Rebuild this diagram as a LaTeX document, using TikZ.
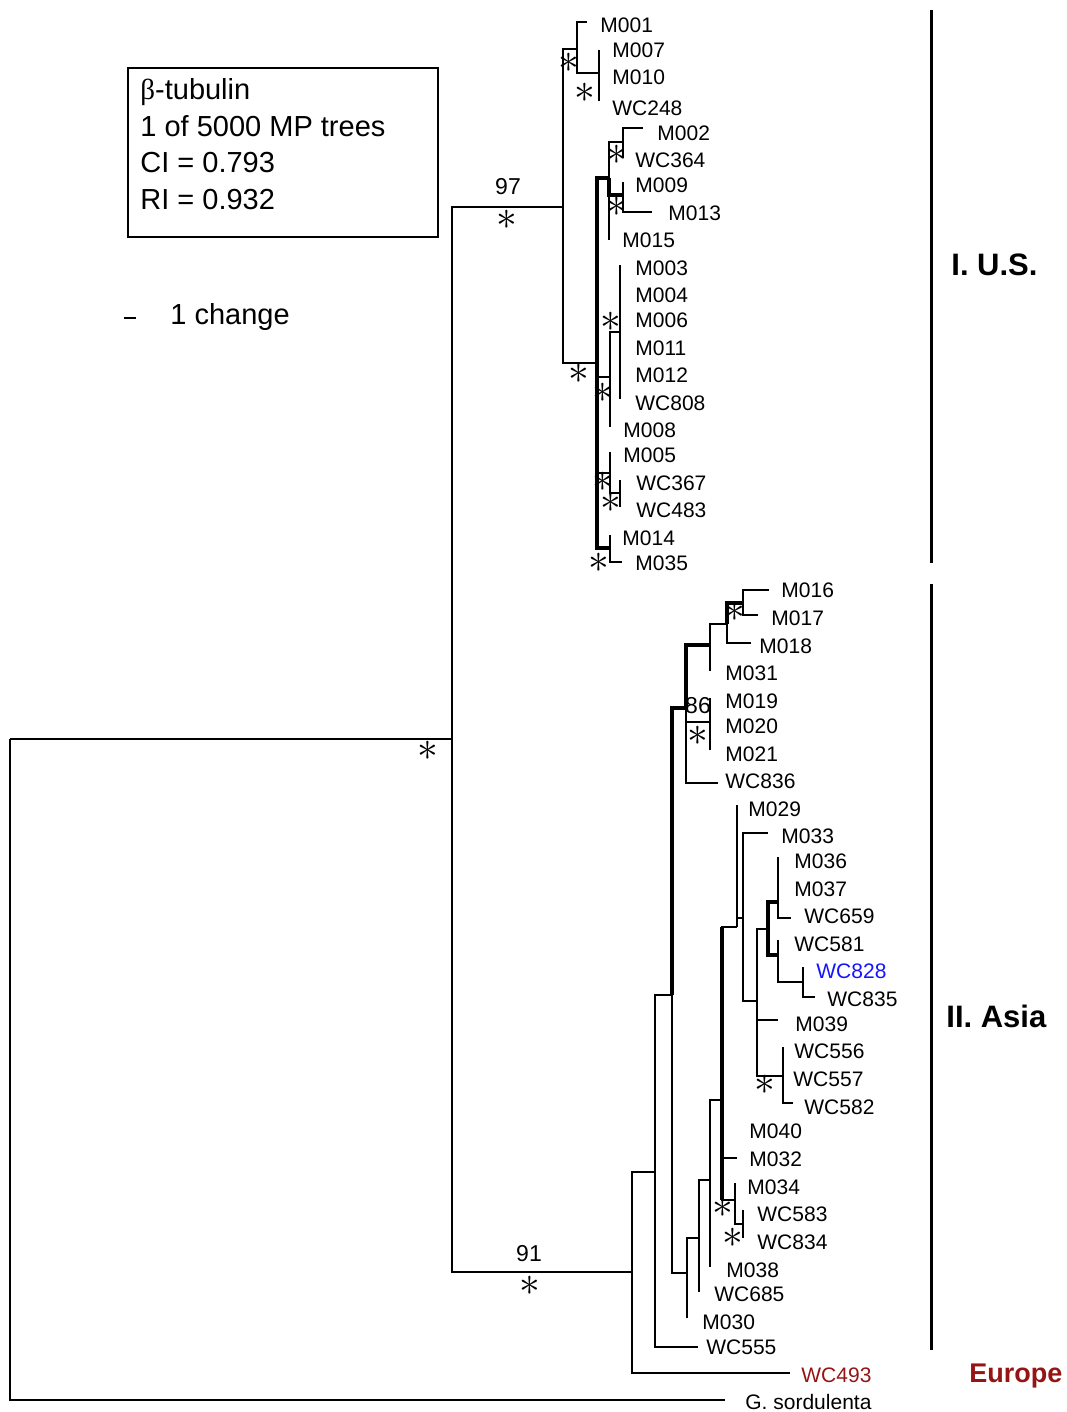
\documentclass[tikz,border=0pt]{standalone}
\usepackage{fontspec}
\setmainfont{Liberation Sans}
\newfontfamily\greekserif{Liberation Serif}
\definecolor{eured}{RGB}{150,20,20}
\definecolor{wcblue}{RGB}{20,20,255}
\tikzset{
  br/.style={line width=1.1pt},
  thk/.style={line width=2pt},
  lbl/.style={anchor=west, inner sep=0pt, font=\fontsize{10.5}{12}\selectfont},
  boot/.style={inner sep=0pt, font=\fontsize{11.5}{12}\selectfont},
  star/.style={inner sep=0pt, font=\fontsize{20}{20}\selectfont},
  grp/.style={anchor=west, inner sep=0pt, font=\fontsize{15.5}{18}\selectfont\bfseries},
  clbar/.style={line width=1.5pt},
}
\begin{document}
\begin{tikzpicture}[x=0.5pt,y=-0.5pt]
\useasboundingbox (0,0) rectangle (1066,1412);

% info box and scale
\draw[line width=1pt] (128,68) rectangle (438,237);
\node[anchor=north west, inner sep=0pt, align=left, font=\fontsize{14.5}{18.3}\selectfont] (info) at (140,78)
  {{\greekserif β}-tubulin\\1 of 5000 MP trees\\CI = 0.793\\RI = 0.932};
\coordinate (sb1) at (124,318);
\coordinate (sb2) at (136,318);
\draw[line width=1.4pt] (sb1) -- (sb2);
\node[lbl, font=\fontsize{14.5}{18}\selectfont] (chg) at (170,317) {1 change};

% internal nodes
\coordinate (root) at (10,739);
\coordinate (ingroup) at (452,739);
\coordinate (us) at (563,207);
\coordinate (us1) at (577,49);
\coordinate (us1b) at (599,73);
\coordinate (us2) at (597,363);
\coordinate (us2a) at (609,178);
\coordinate (us2a1) at (623,142);
\coordinate (us2a2) at (623,195);
\coordinate (us2b) at (610,377);
\coordinate (us2b1) at (620,332);
\coordinate (us2c) at (610,473);
\coordinate (us2c1) at (620,493);
\coordinate (us2d) at (610,548);
\coordinate (asia) at (632,1272);
\coordinate (a1) at (655,1172);
\coordinate (a2) at (672,995);
\coordinate (a3) at (686,708);
\coordinate (a3a) at (710,645);
\coordinate (a3a1) at (727,624);
\coordinate (a3a2) at (743,603);
\coordinate (a3b) at (710,722);
\coordinate (a4) at (687,1273);
\coordinate (a5) at (699,1238);
\coordinate (a6) at (710,1180);
\coordinate (a7) at (722,1100);
\coordinate (a8) at (737,927);
\coordinate (a8b) at (743,918);
\coordinate (a8c) at (757,1001);
\coordinate (a8d) at (768,929);
\coordinate (a8e) at (783,1076);
\coordinate (a8f) at (778,902);
\coordinate (a8g) at (778,955);
\coordinate (a8h) at (803,982);
\coordinate (a9) at (735,1200);
\coordinate (a10) at (743,1224);

% branch tips
\foreach \n/\x/\y in {M001/587/22, M007/599/50, M010/599/77, WC248/599/101,
  M002/643/128, WC364/623/158, M009/623/182, M013/652/212, M015/609/240,
  M003/620/265, M004/620/295, M006/620/320, M011/620/348, M012/620/375,
  WC808/620/399, M008/610/427, M005/610/452, WC367/620/480, WC483/620/507,
  M014/610/535, M035/622/562,
  M016/769/590, M017/758/615, M018/751/643, M031/710/671, M019/710/698,
  M020/710/726, M021/710/750, WC836/718/783, M029/737/805, M033/768/833,
  M036/778/857, M037/778/889, WC659/791/918, WC581/778/940, WC828/803/967,
  WC835/815/997, M039/778/1020, WC556/783/1047, WC557/783/1076, WC582/793/1103,
  M040/722/1131, M032/737/1158, M034/735/1183, WC583/743/1210, WC834/743/1238,
  M038/710/1267, WC685/699/1292, M030/687/1318, WC555/698/1347, WC493/790/1373,
  Gs/725/1400}
  \coordinate (t\n) at (\x,\y);

% taxon labels
\foreach \n/\x/\y in {M001/600/25, M007/612/50, M010/612/77, WC248/612/108,
  M002/657/133, WC364/635/160, M009/635/185, M013/668/213, M015/622/240,
  M003/635/268, M004/635/295, M006/635/320, M011/635/348, M012/635/375,
  WC808/635/403, M008/623/430, M005/623/455, WC367/636/483, WC483/636/510,
  M014/622/538, M035/635/563,
  M016/781/590, M017/771/618, M018/759/646, M031/725/673, M019/725/701,
  M020/725/726, M021/725/754, WC836/725/781, M029/748/809, M033/781/836,
  M036/794/861, M037/794/889, WC659/804/916, WC581/794/944,
  WC835/827/999, M039/795/1024, WC556/794/1051, WC557/793/1079, WC582/804/1107,
  M040/749/1131, M032/749/1159, M034/747/1187, WC583/757/1214, WC834/757/1242,
  M038/726/1270, WC685/714/1294, M030/702/1322, WC555/706/1347}
  \node[lbl] (\n) at (\x,\y) {\n};
\node[lbl, text=wcblue] (WC828) at (816,971) {WC828};
\node[lbl, text=eured] (WC493) at (801,1375) {WC493};
\node[lbl] (Gs) at (745,1402) {G. sordulenta};

% branches
\foreach \p/\c in {root/tGs, root/ingroup, ingroup/us, ingroup/asia,
  us/us1, us/us2, us1/tM001, us1/us1b, us1b/tM007, us1b/tM010, us1b/tWC248,
  us2/us2b, us2/us2c, us2a/us2a1, us2a/tM015,
  us2a1/tM002, us2a1/tWC364, us2a2/tM009, us2a2/tM013,
  us2b/us2b1, us2b/tM008, us2b1/tM003, us2b1/tM004, us2b1/tM006,
  us2b1/tM011, us2b1/tM012, us2b1/tWC808,
  us2c/tM005, us2c/us2c1, us2c1/tWC367, us2c1/tWC483, us2d/tM014, us2d/tM035,
  asia/a1, asia/tWC493, a1/a2, a1/tWC555, a2/a4,
  a3/a3b, a3/tWC836, a3a/a3a1, a3a/tM031, a3a1/tM018, a3a2/tM016, a3a2/tM017,
  a3b/tM019, a3b/tM020, a3b/tM021,
  a4/a5, a4/tM030, a5/a6, a5/tWC685, a6/a7, a6/tM038,
  a7/a8, a7/tM040, a7/tM032, a7/a9, a9/tM034, a9/a10, a10/tWC583, a10/tWC834,
  a8/tM029, a8/a8b, a8b/tM033, a8b/a8c, a8c/tM039, a8c/a8e, a8c/a8d,
  a8f/tM036, a8f/tM037, a8f/tWC659, a8g/tWC581, a8g/a8h, a8h/tWC828, a8h/tWC835,
  a8e/tWC556, a8e/tWC557, a8e/tWC582}
  \draw[br] (\p) |- (\c);
\foreach \p/\c in {us2/us2a, us2/us2d, us2a/us2a2, a2/a3, a3/a3a, a3a1/a3a2,
  a8d/a8f, a8d/a8g}
  \draw[thk] (\p) |- (\c);
\draw[thk] (a7 |- a8) -- (a7 |- a9);

% support values
\node[boot] (b97) at (508,187) {97};
\node[boot] (b91) at (529,1254) {91};
\node[boot] (b86) at (698,706) {86};
\foreach \x/\y [count=\i] in {507/220, 569/63, 585/93, 617/155, 617/207,
  611/322, 579/374, 603/393, 603/482, 611/503, 599/563,
  735/612, 698/736, 765/1085, 723/1208, 733/1238, 428/751, 530/1286}
  \node[star] (s\i) at (\x,\y) {$\ast$};

% clade bars
\coordinate (usT) at (931,10);
\coordinate (usB) at (931,563);
\coordinate (asT) at (931,584);
\coordinate (asB) at (931,1350);
\draw[clbar] (usT) -- (usB);
\draw[clbar] (asT) -- (asB);
\node[grp] (gUS) at (951,265) {I. U.S.};
\node[grp] (gAsia) at (946,1016) {II. Asia};
\node[grp, text=eured, font=\fontsize{13.5}{16}\selectfont\bfseries] (gEu) at (969,1376) {Europe};
\end{tikzpicture}
\end{document}
